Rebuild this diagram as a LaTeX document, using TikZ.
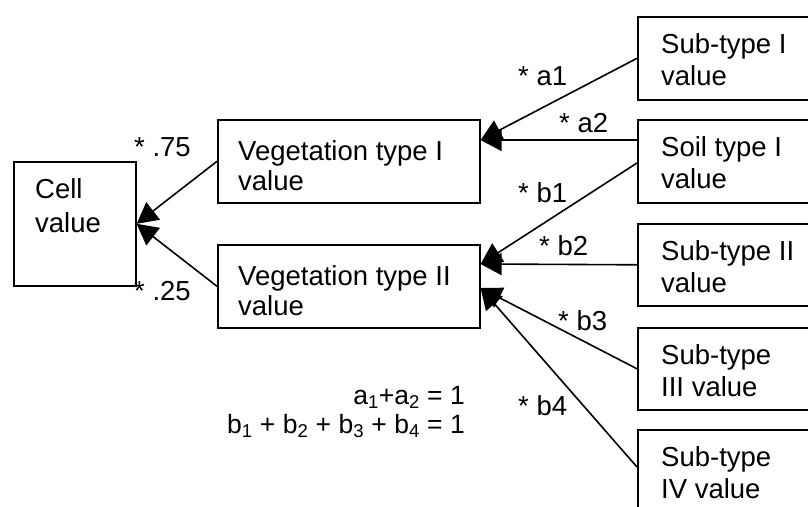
\documentclass[tikz,border=0pt]{standalone}
\usepackage{fontspec}
\setmainfont{Liberation Sans}
\usetikzlibrary{arrows.meta}
\begin{document}
\begin{tikzpicture}[x=1pt,y=-1pt,
  box/.style={draw,line width=1.6pt,anchor=north west,inner sep=0pt},
  lbl/.style={anchor=base west,inner sep=0pt,font=\fontsize{27.5}{32}\selectfont},
  eq/.style={anchor=base east,inner sep=0pt,font=\fontsize{26.5}{30}\selectfont},
  arr/.style={line width=1.6pt,-{Triangle[length=21pt,width=22pt]}}]
\useasboundingbox (0,0) rectangle (808,506);
\clip (0,0) rectangle (808,506);
% boxes
\node[box,minimum width=122pt,minimum height=124pt] (cell) at (13,161) {};
\node[lbl] at (35,198) {Cell};
\node[lbl] at (35,232) {value};
\node[box,minimum width=262pt,minimum height=83pt] (veg1) at (217,119) {};
\node[lbl] at (238,160) {Vegetation type I};
\node[lbl] at (238,190) {value};
\node[box,minimum width=262pt,minimum height=83pt] (veg2) at (217,244) {};
\node[lbl] at (238,285) {Vegetation type II};
\node[lbl] at (238,315) {value};
\node[box,minimum width=220pt,minimum height=83pt] (sub1) at (637,16) {};
\node[lbl] at (661,53) {Sub-type I};
\node[lbl] at (661,85) {value};
\node[box,minimum width=220pt,minimum height=83pt] (soil) at (637,119) {};
\node[lbl] at (661,156) {Soil type I};
\node[lbl] at (661,188) {value};
\node[box,minimum width=220pt,minimum height=82pt] (sub2) at (637,223) {};
\node[lbl] at (661,260) {Sub-type II};
\node[lbl] at (661,292) {value};
\node[box,minimum width=220pt,minimum height=82pt] (sub3) at (637,327) {};
\node[lbl] at (661,364) {Sub-type};
\node[lbl] at (661,396) {III value};
\node[box,minimum width=220pt,minimum height=83pt] (sub4) at (637,429) {};
\node[lbl] at (661,466) {Sub-type};
\node[lbl] at (661,498) {IV value};
% connection points
\coordinate (v1in) at (veg1.east |- 0,140);
\coordinate (v2inA) at (veg2.east |- 0,264);
\coordinate (v2inB) at (veg2.east |- 0,288);
\coordinate (soilA) at (soil.west |- 0,140);
\coordinate (soilB) at (soil.west |- 0,163);
\coordinate (s4out) at (sub4.west |- 0,467);
% connectors
\draw[arr] (veg1.west) -- (cell.east);
\draw[arr] (veg2.west) -- (cell.east);
\draw[arr] (sub1.west) -- (v1in);
\draw[arr] (soilA) -- (v1in);
\draw[arr] (soilB) -- (v2inA);
\draw[arr] (sub2.west) -- (v2inA);
\draw[arr] (sub3.west) -- (v2inB);
\draw[arr] (s4out) -- (v2inB);
% labels
\node[lbl] at (134,156) {* .75};
\node[lbl] at (134,300) {* .25};
\node[lbl] at (518,85) {* a1};
\node[lbl] at (559,132) {* a2};
\node[lbl] at (518,202) {* b1};
\node[lbl] at (539,255) {* b2};
\node[lbl] at (558,330) {* b3};
\node[lbl] at (518,415) {* b4};
\node[eq] at (465,404) {a\textsubscript{1}+a\textsubscript{2} = 1};
\node[eq] at (465,433) {b\textsubscript{1} + b\textsubscript{2} + b\textsubscript{3} + b\textsubscript{4} = 1};
\end{tikzpicture}
\end{document}
